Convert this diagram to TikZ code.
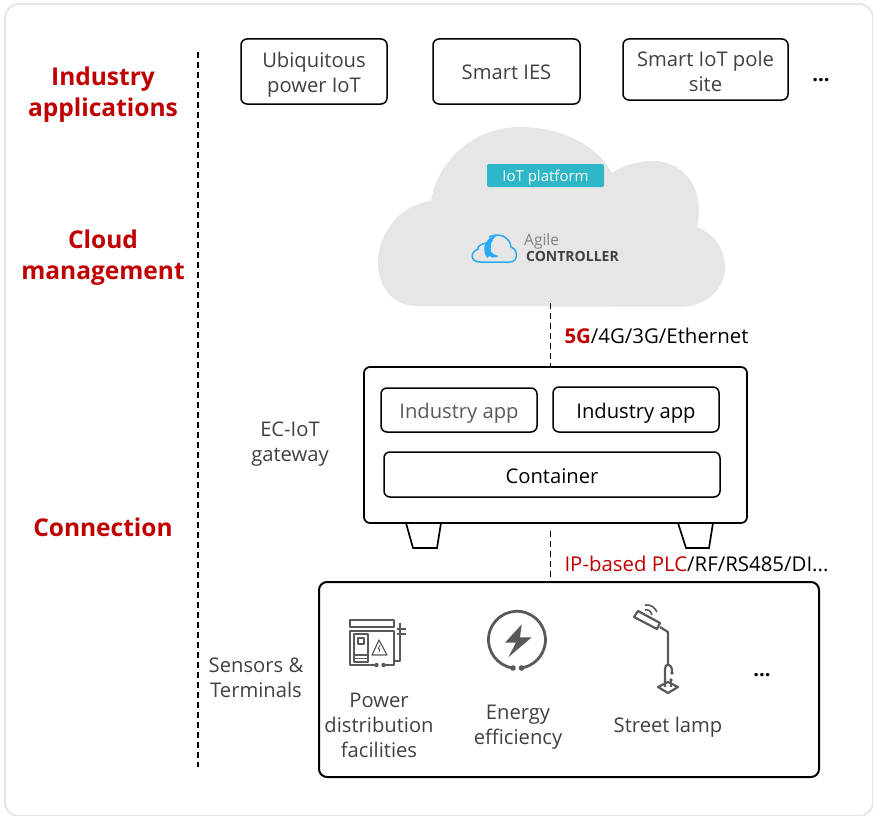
\documentclass[tikz,border=0pt]{standalone}
\usepackage{fontspec}
\setmainfont{Open Sans}
\definecolor{hwred}{HTML}{C00000}
\definecolor{hwtext}{HTML}{404040}
\definecolor{hwgray}{HTML}{E6E6E6}
\definecolor{hwteal}{HTML}{2DB7C9}
\definecolor{hwblue}{HTML}{29AAF4}
\definecolor{hwicon}{HTML}{595959}
\newcommand{\firstline}[1]{\rule{0pt}{#1}}
\tikzset{
  headlabel/.style={text=hwred, font=\fontsize{24.5}{31}\selectfont\bfseries, align=center},
  sidelabel/.style={text=hwtext, font=\fontsize{20.2}{25}\selectfont, align=center},
  plainlabel/.style={text=hwtext, font=\fontsize{20.2}{25}\selectfont, align=center},
  linklabel/.style={text=black, font=\fontsize{20.4}{24}\selectfont, anchor=west},
  appbox/.style={draw=black, line width=1.5pt, rounded corners=6pt, text=hwtext, align=center,
    font=\fontsize{20.2}{25}\selectfont, inner sep=0pt},
  onebox/.style={appbox, text height=17pt, text depth=0pt},
  dashline/.style={draw=black, line width=1.7pt, dash pattern=on 6pt off 4pt},
  iconline/.style={draw=hwicon, line width=1.8pt, line join=round}
}
\begin{document}
\begin{tikzpicture}[x=1pt,y=-1pt]
  \useasboundingbox (0,0) rectangle (873,816);
  \draw [draw=hwgray, line width=2pt, rounded corners=14pt] (5,4) rectangle (873,816);
  % left column
  \node (industry) [headlabel] at (103,95) {Industry\\applications};
  \node (cloudmgmt) [headlabel] at (103,258) {Cloud\\management};
  \node (connection) [headlabel] at (103,527.5) {Connection};
  \coordinate (ruletop) at (198,52);
  \coordinate (rulebottom) at (198,767);
  \path (ruletop) edge [dashline] (rulebottom);
  % applications
  \node (ubiquitous) [appbox, minimum width=146pt, minimum height=65pt] at (314,71.5) {\firstline{21pt}Ubiquitous\\power IoT};
  \node (smarties) [onebox, minimum width=147pt, minimum height=65pt] at (506.5,71.5) {Smart IES};
  \node (smartpole) [appbox, minimum width=165pt, minimum height=61pt] at (705.5,69.5) {\firstline{19pt}Smart IoT pole\\site};
  \node (appdots) [plainlabel, text=black] at (821,80) {\textbf{...}};
  % cloud
  \fill [hwgray] (417,306) .. controls (393,306) and (378,287) .. (378,263)
    .. controls (378,231) and (402,204) .. (431,201)
    .. controls (438,159) and (475,127) .. (520,127)
    .. controls (560,127) and (596,144) .. (612,173)
    .. controls (624,165) and (638,161) .. (653,161)
    .. controls (682,161) and (699,184) .. (699,210)
    .. controls (699,216) and (698,222) .. (697,227)
    .. controls (714,234) and (725,249) .. (725,267)
    .. controls (725,290) and (705,307) .. (680,307) -- cycle;
  \node (platform) [fill=hwteal, rounded corners=2pt, text=white, minimum width=117pt, minimum height=23pt,
    inner sep=0pt, text height=12pt, text depth=0pt, font=\fontsize{15}{18}\selectfont] at (545.5,175.5) {IoT platform};
  % logo
  \draw [hwblue, line width=1.5pt] (487,243) .. controls (480,244) and (477,247) .. (478,249)
    .. controls (470,252) and (470,262) .. (480,262) -- (510,262)
    .. controls (518,262) and (519,250) .. (511,247)
    .. controls (510,237) and (499,232) .. (489,237);
  \fill [hwblue] (487,258) .. controls (481,248) and (485,238) .. (497,235)
    .. controls (491,240) and (489,247) .. (492,254) -- cycle;
  \fill [hwblue] (485,251) .. controls (488,258) and (495,259) .. (499,256)
    .. controls (495,255) and (491,254) .. (490,249) -- cycle;
  \node (agile) [text=gray, font=\fontsize{15.5}{17}\selectfont, anchor=west, inner sep=0pt] at (524,241) {Agile};
  \node (controller) [text=hwtext, font=\fontsize{14}{15}\selectfont\bfseries, anchor=west, inner sep=0pt] at (526,256) {CONTROLLER};
  % gateway
  \draw [draw=black, line width=1.7pt, fill=white] (406,523) -- (413,548) -- (437,548) -- (441,523);
  \draw [draw=black, line width=1.7pt, fill=white] (678,523) -- (686,548) -- (709,548) -- (713,523);
  \node (gateway) [draw=black, line width=1.7pt, rounded corners=6pt, minimum width=383pt, minimum height=156pt, inner sep=0pt] at (555.5,445) {};
  \node (appone) [onebox, minimum width=156pt, minimum height=44pt, text=hwicon] at (459,410) {Industry app};
  \node (apptwo) [onebox, minimum width=166pt, minimum height=45pt, text=black] at (636,409.5) {Industry app};
  \node (container) [onebox, minimum width=336pt, minimum height=45pt, text=black] at (552,474.5) {Container};
  \node (gatewaylabel) [sidelabel] at (290,444) {EC-IoT\\gateway};
  % sensors
  \node (sensors) [draw=black, line width=2pt, rounded corners=8pt, minimum width=500pt, minimum height=195pt, inner sep=0pt] at (569,679.5) {};
  \node (sensorlabel) [sidelabel] at (256,678) {Sensors \&\\Terminals};
  % links
  \coordinate (cloudfoot) at (550.5,303);
  \coordinate (gwfoot) at (550.5,531);
  \coordinate (gwtop) at (550.5,366);
  \coordinate (sensortop) at (550.5,581);
  \path (cloudfoot) edge [dashline] (gwtop)
        (gwfoot) edge [dashline] (sensortop);
  \node (uplink) [linklabel] at (561,336) {\textcolor{hwred}{\textbf{5G}}/4G/3G/Ethernet};
  \node (downlink) [linklabel] at (561,564) {\textcolor{hwred}{IP-based PLC}/RF/RS485/DI...};
  % power icon
  \draw [iconline] (350,620) rectangle (394,627);
  \draw [iconline] (376,665) -- (350,665) -- (350,631) -- (394,631) -- (394,661);
  \draw [iconline] (383,665) -- (394,665) -- (394,661) -- (400,661) -- (400,623);
  \draw [iconline] (397,629) -- (406,629) (397,634) -- (406,634);
  \draw [iconline, line width=1.4pt] (354,634) rectangle (368,662);
  \draw [iconline, line width=1.2pt] (358,638) rectangle (364,644);
  \draw [iconline, line width=1.2pt] (354,655) -- (368,655) (354,658.5) -- (368,658.5);
  \draw [iconline, line width=1.2pt] (372,655) -- (379,640) -- (387,655) -- cycle;
  \draw [iconline, line width=.9pt] (380,645) -- (378,649) -- (380,649) -- (379,652);
  \fill [hwicon] (376.5,665) circle (2.2pt) (383.5,665) circle (2.2pt);
  \node (powerlabel) [plainlabel] at (379,725) {Power\\distribution\\facilities};
  % energy icon
  \draw [iconline, line width=2.8pt] (513,668) arc (262:-82:28.5pt);
  \fill [hwicon] (513,668) circle (2.8pt) (521.5,668) circle (2.8pt);
  \fill [hwicon] (521.7,624.3) -- (505,642.7) -- (516,642.7) -- (508.3,657.3) -- (531.7,637.3) -- (520,637.3) -- cycle;
  \node (energylabel) [plainlabel] at (518,727) {Energy\\efficiency};
  % street lamp
  \draw [iconline, line width=2.2pt] (634,617) -- (638,611) -- (660,623) -- (657,629) -- cycle;
  \draw [iconline, line width=2.2pt] (660,627) -- (668,632) -- (668,665);
  \draw [iconline, line width=2.2pt] (665,687) -- (665,669) .. controls (665,663) and (671,663) .. (672,670) -- (672,672);
  \draw [iconline, line width=2.2pt] (671,680) -- (671,687);
  \draw [iconline, line width=2.2pt] (658,687) -- (668,682) -- (678,687) -- (668,693) -- cycle;
  \fill [hwicon] (672,673) circle (1.8pt) (671,680) circle (1.8pt);
  \draw [iconline, line width=1.6pt] (645,605) .. controls (651,604) and (655,608) .. (657,612);
  \draw [iconline, line width=1.6pt] (645,610) .. controls (648,609) and (651,611) .. (652,615);
  \node (lamplabel) [plainlabel] at (668,727) {Street lamp};
  \node (sensordots) [plainlabel, text=black] at (762,675) {\textbf{...}};
\end{tikzpicture}
\end{document}
